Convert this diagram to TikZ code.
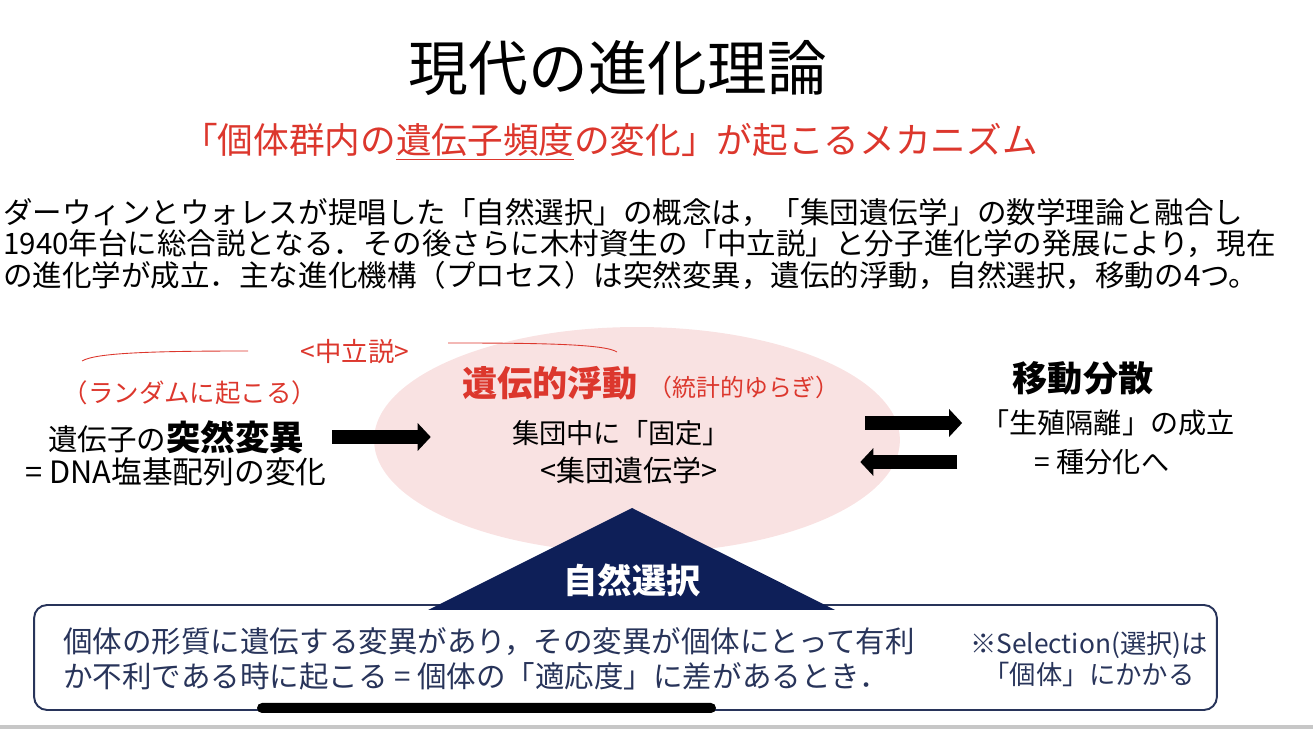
\documentclass[tikz,border=0pt]{standalone}
\usepackage{fontspec}
\setmainfont{Noto Sans CJK JP}
\usetikzlibrary{positioning,arrows.meta,shapes.geometric}
\definecolor{evred}{RGB}{220,55,45}
\definecolor{driftpink}{RGB}{249,226,226}
\definecolor{selnavy}{RGB}{14,31,88}
\definecolor{boxnavy}{RGB}{40,52,90}
\newcommand{\fsz}[2]{\fontsize{#1}{#2}\selectfont}
\begin{document}
\begin{tikzpicture}[x=0.02cm, y=-0.02cm,
    txt/.style={inner sep=0pt, align=center},
    redtxt/.style={txt, text=evred},
    bigarrow/.style={-{Triangle[length=0.26cm, width=0.54cm]}, line width=0.28cm}]
            \useasboundingbox (0,0) rectangle (1313,729);

            % 标题
            \node[txt] (title) at (618,68) {\fsz{34}{40}現代の進化理論};
            \node[redtxt] (subtitle) at (610,142) {\fsz{20.3}{24}「個体群内の\underline{遺伝子頻度}の変化」が起こるメカニズム};
            \node[txt, align=left, anchor=west, font={\fsz{16.8}{18.1}}] (intro) at (3,244) {%
                ダーウィンとウォレスが提唱した「自然選択」の概念は，「集団遺伝学」の数学理論と融合し\\
                1940年台に総合説となる．その後さらに木村資生の「中立説」と分子進化学の発展により，現在\\
                の進化学が成立．主な進化機構（プロセス）は突然変異，遺伝的浮動，自然選択，移動の4つ。};

            % 遺伝的浮動
            \node[ellipse, fill=driftpink, minimum width=10.52cm, minimum height=4.52cm, inner sep=0pt] (drift) at (637,440) {};
            \node[redtxt] (drifttitle) at (550,383) {\fsz{20}{24}\bfseries 遺伝的浮動};
            \node[redtxt, anchor=base west] (driftnote) at ([xshift=0.2cm]drifttitle.base east) {\fsz{13.6}{16}（統計的ゆらぎ）};
            \node[txt] (fix) at (621,433) {\fsz{15.5}{18}集団中に「固定」};
            \node[txt] (popgen) at (629,470) {\fsz{16.5}{18}<集団遺伝学>};

            % 突然変異
            \node[redtxt] (neutral) at (355,352) {\fsz{15}{18}<中立説>};
            \node[redtxt] (random) at (190,393) {\fsz{14.5}{17}（ランダムに起こる）};
            \node[txt] (mut) at (176,437) {{\fsz{16.8}{20}遺伝子の}{\fsz{19.6}{22}\bfseries 突然変異}};
            \node[txt] (dna) at (176,472) {\fsz{17.5}{20}= DNA塩基配列の変化};
            \draw[evred, line width=0.5pt] (82,361) .. controls (95,353) and (150,351) .. (248,351);
            \draw[evred, line width=0.5pt] (448,343) .. controls (540,343) and (605,344) .. (617,352);

            % 移動分散
            \node[txt] (disp) at (1083,378) {\fsz{20}{24}\bfseries 移動分散};
            \node[txt] (iso) at (1108,423) {\fsz{16}{18}「生殖隔離」の成立};
            \node[txt] (spec) at (1102,462) {\fsz{16}{18}= 種分化へ};

            % 箭头
            \draw[bigarrow, shorten <=0.56cm, shorten >=1.62cm] (mut.east) -- (mut.east -| fix.west);
            \draw[bigarrow, shorten <=-0.7cm, shorten >=0.38cm] (iso.west -| drift.east) -- (iso.west);
            \draw[bigarrow, shorten <=1.54cm, shorten >=-0.8cm] (spec.west) -- (spec.west -| drift.east);

            % 自然選択
            \node[draw=boxnavy, line width=1.1pt, rounded corners=0.26cm, minimum width=23.66cm, minimum height=2.1cm, inner sep=0pt] (box) at (625.5,657.5) {};
            \fill[selnavy] (632,508) -- (835,610) -- (428,610) -- cycle;
            \node[txt, text=white] (select) at (632,580) {\fsz{19.5}{22}\bfseries 自然選択};
            \node[txt, text=boxnavy, align=left, anchor=west, font={\fsz{16.8}{19.8}}] (cond) at (63,659) {%
                個体の形質に遺伝する変異があり，その変異が個体にとって有利\\
                か不利である時に起こる = 個体の「適応度」に差があるとき．};
            \node[txt, text=boxnavy, font={\fsz{15}{18}}] (note) at (1089,659) {%
                ※Selection(選択)は\\「個体」にかかる};

            % 画面下部
            \fill[black, rounded corners=0.1cm] (257,703) rectangle (716,713);
            \fill[black!22] (0,725) rectangle (1313,729);
        \end{tikzpicture}
\end{document}
